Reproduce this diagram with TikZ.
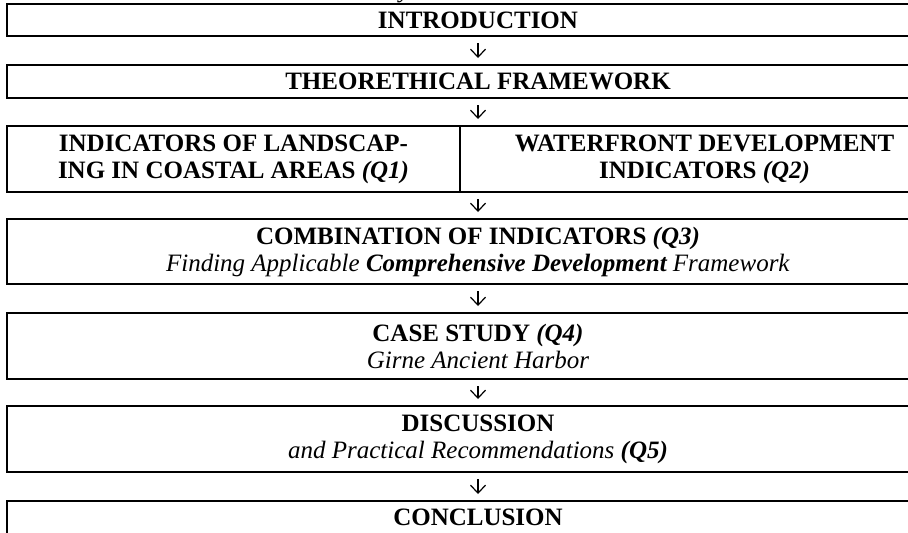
\documentclass[tikz,border=0pt]{standalone}
\usepackage{fontspec}
\setmainfont{Liberation Serif}
\usetikzlibrary{arrows.meta}
\begin{document}
\begin{tikzpicture}[x=0.5pt,y=-0.5pt,
  box/.style={draw, line width=1pt, inner sep=0pt, align=center,
    font=\fontsize{12.5}{13.5}\selectfont},
  arr/.style={line width=0.6pt, -{Straight Barb[length=4pt,width=7.5pt,line width=0.6pt]},
    shorten <=3pt, shorten >=3pt}]
\useasboundingbox (0,0) rectangle (908,532);
\clip (0,0) rectangle (908,532);
\node[font=\fontsize{12.5}{13.5}\selectfont\itshape, anchor=base] (cap) at (405,-3) {y};
\node[box, minimum width=471pt, minimum height=16pt] (b1) at (478,20) {\textbf{INTRODUCTION}};
\node[box, minimum width=471pt, minimum height=16.5pt] (b2) at (478,81.5) {\textbf{THEORETHICAL FRAMEWORK}};
\node[box, minimum width=226.5pt, minimum height=33pt] (b3l) at (233.5,159) {\textbf{INDICATORS OF LANDSCAP-}\\\textbf{ING IN COASTAL AREAS \textit{(Q1)}}};
\node[box, minimum width=244.5pt, minimum height=33pt] (b3r) at (704.5,159) {\textbf{WATERFRONT DEVELOPMENT}\\\textbf{INDICATORS \textit{(Q2)}}};
\node[box, minimum width=471pt, minimum height=32.5pt] (b4) at (478,251.5) {\textbf{COMBINATION OF INDICATORS \textit{(Q3)}}\\\textit{Finding Applicable \textbf{Comprehensive Development} Framework}};
\node[box, minimum width=471pt, minimum height=33pt] (b5) at (478,346) {\textbf{CASE STUDY \textit{(Q4)}}\\\textit{Girne Ancient Harbor}};
\node[box, minimum width=471pt, minimum height=33pt] (b6) at (478,439) {\textbf{DISCUSSION}\\\textit{and Practical Recommendations \textbf{(Q5)}}};
\node[box, minimum width=471pt, minimum height=17pt, anchor=north] (b7) at (478,500) {};
\node[font=\fontsize{12.5}{13.5}\selectfont\bfseries] (t7) at (478,517) {CONCLUSION};
\draw[arr] (b1.south) -- (b2.north);
\draw[arr] (b2.south) -- (b2.south |- b3l.north);
\draw[arr] (b2.south |- b3l.south) -- (b4.north);
\draw[arr] (b4.south) -- (b5.north);
\draw[arr] (b5.south) -- (b6.north);
\draw[arr] (b6.south) -- (b7.north);
\end{tikzpicture}
\end{document}
